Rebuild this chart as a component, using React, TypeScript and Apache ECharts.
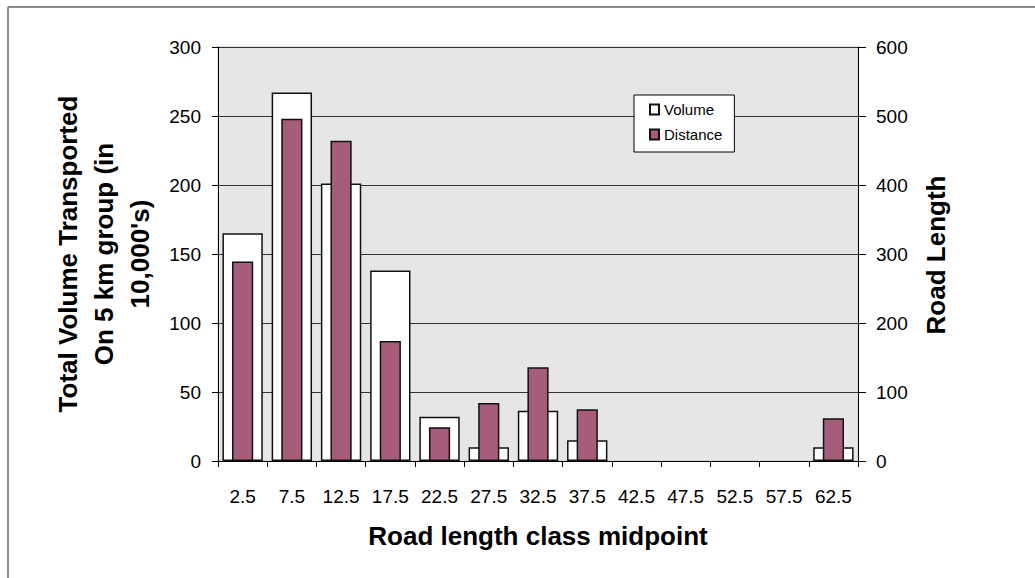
import React, { useEffect, useRef } from "react";
import * as echarts from "echarts";

const categories = ["2.5", "7.5", "12.5", "17.5", "22.5", "27.5", "32.5", "37.5", "42.5", "47.5", "52.5", "57.5", "62.5"];
const volumeValues = [165, 267, 201, 138, 32, 10, 36.5, 15, 0, 0, 0, 0, 10];
const distanceValues = [289, 496, 464, 174, 49, 84, 136, 75, 0, 0, 0, 0, 62];
const leftTicks = { min: 0, max: 300, interval: 50 };
const rightTicks = { min: 0, max: 600, interval: 100 };

const FONT = "'Liberation Sans', Arial, sans-serif";

const asBars = (vals: number[]) => vals.map((v) => (v === 0 ? null : v));

export default function App() {
  const ref = useRef<HTMLDivElement>(null);
  useEffect(() => {
    if (!ref.current) return;
    const chart = echarts.init(ref.current, null, { renderer: "svg" });
    chart.setOption({
      animation: false,
      backgroundColor: "#ffffff",
      textStyle: { fontFamily: FONT },
      grid: {
        left: 218,
        right: 177,
        top: 47,
        bottom: 117,
        show: true,
        backgroundColor: "#e6e6e6",
        borderColor: "#c8c8c8",
        borderWidth: 1,
      },
      legend: {
        data: ["Volume", "Distance"],
        orient: "vertical",
        left: 634,
        top: 95,
        icon: "rect",
        itemWidth: 9,
        itemHeight: 10,
        itemGap: 10,
        padding: [7, 12, 10, 15],
        backgroundColor: "#ffffff",
        borderColor: "#000000",
        borderWidth: 1,
        borderRadius: 0,
        textStyle: { fontSize: 15, color: "#000", fontFamily: FONT },
      },
      xAxis: [
        {
          type: "category",
          data: categories,
          axisLine: { lineStyle: { color: "#000", width: 1 } },
          axisTick: { show: true, length: 6, lineStyle: { color: "#000" } },
          axisLabel: { interval: 0, fontSize: 19, color: "#000", margin: 26, fontFamily: FONT },
        },
        {
          type: "category",
          data: categories,
          show: false,
        },
      ],
      yAxis: [
        {
          type: "value",
          min: leftTicks.min,
          max: leftTicks.max,
          interval: leftTicks.interval,
          axisLine: { show: true, lineStyle: { color: "#000", width: 1 } },
          axisTick: { show: true, length: 6, lineStyle: { color: "#000" } },
          axisLabel: { fontSize: 19, color: "#000", margin: 17, fontFamily: FONT },
          splitLine: { show: true, lineStyle: { color: "#333", width: 1 } },
        },
        {
          type: "value",
          position: "right",
          min: rightTicks.min,
          max: rightTicks.max,
          interval: rightTicks.interval,
          axisLine: { show: true, lineStyle: { color: "#000", width: 1 } },
          axisTick: { show: true, length: 8, lineStyle: { color: "#000" } },
          axisLabel: { fontSize: 19, color: "#000", margin: 18, fontFamily: FONT },
          splitLine: { show: false },
        },
      ],
      series: [
        {
          name: "Volume",
          type: "bar",
          xAxisIndex: 0,
          yAxisIndex: 0,
          data: asBars(volumeValues),
          barWidth: "82%",
          itemStyle: { color: "#ffffff", borderColor: "#111", borderWidth: 1.5 },
        },
        {
          name: "Distance",
          type: "bar",
          xAxisIndex: 1,
          yAxisIndex: 1,
          data: asBars(distanceValues),
          barWidth: "43%",
          itemStyle: { color: "#a65d7c", borderColor: "#111", borderWidth: 1.5 },
        },
      ],
      graphic: [
        {
          type: "line",
          shape: { x1: 8, y1: 7, x2: 1035, y2: 7 },
          style: { stroke: "#666", lineWidth: 1.5 },
        },
        {
          type: "line",
          shape: { x1: 8, y1: 7, x2: 8, y2: 578 },
          style: { stroke: "#666", lineWidth: 1.5 },
        },
        {
          type: "text",
          x: 104,
          y: 254,
          rotation: Math.PI / 2,
          style: {
            text: "Total Volume Transported\nOn 5 km group (in\n10,000's)",
            font: "bold 26px " + FONT,
            fill: "#000",
            textAlign: "center",
            textVerticalAlign: "middle",
            lineHeight: 36,
          },
        },
        {
          type: "text",
          x: 936,
          y: 255,
          rotation: Math.PI / 2,
          style: {
            text: "Road Length",
            font: "bold 26px " + FONT,
            fill: "#000",
            textAlign: "center",
            textVerticalAlign: "middle",
          },
        },
        {
          type: "text",
          x: 538,
          y: 536,
          style: {
            text: "Road length class midpoint",
            font: "bold 26px " + FONT,
            fill: "#000",
            textAlign: "center",
            textVerticalAlign: "middle",
          },
        },
      ],
    });
    return () => chart.dispose();
  }, []);
  return (
    <div style={{ position: "absolute", left: 0, top: 0, width: 1035, height: 578 }}>
      <div ref={ref} style={{ width: 1035, height: 578 }} />
    </div>
  );
}
